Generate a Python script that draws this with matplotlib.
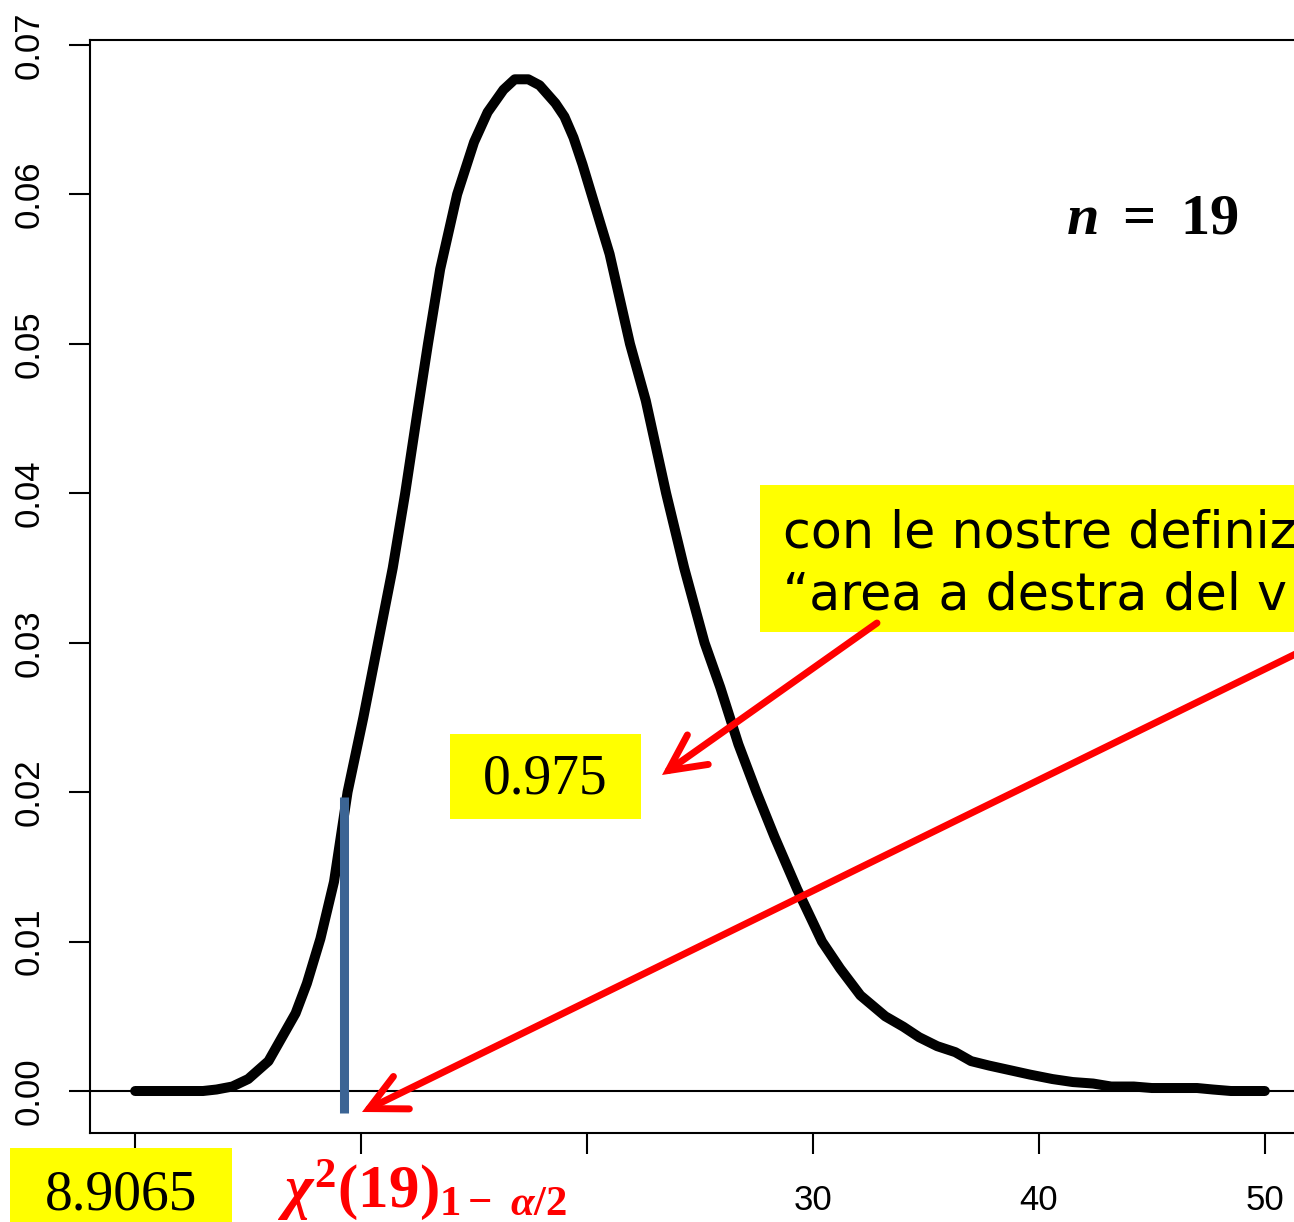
import matplotlib
matplotlib.use("Agg")
import matplotlib.pyplot as plt
from matplotlib.patches import Rectangle, FancyArrowPatch
from matplotlib.lines import Line2D

# density curve (chi-square, 19 df)
x_vals = [0, 1, 2, 3, 3.6, 4.3, 5.0, 5.9, 7.1, 7.6, 8.2, 8.8, 9.4, 10.1, 10.75,
          11.4, 11.95, 12.5, 12.96, 13.5, 14.25, 15.0, 15.6, 16.3, 16.8, 17.4,
          17.9, 18.6, 19.0, 19.4, 19.8, 20.2, 21.0, 21.9, 22.6, 23.5, 24.3,
          25.2, 25.9, 26.7, 27.5, 28.3, 29.3, 30.4, 31.2, 32.1, 33.2, 34.0,
          34.7, 35.5, 36.3, 37.0, 37.8, 38.7, 39.6, 40.6, 41.5, 42.4, 43.2,
          44.2, 45.0, 46.0, 47.0, 47.7, 48.5, 50.0]
dens_vals = [0, 0, 0, 0, 0.0001, 0.0003, 0.0008, 0.0020, 0.0052, 0.0072, 0.0102,
             0.0140, 0.0200, 0.0250, 0.0300, 0.0350, 0.0400, 0.0455, 0.0500,
             0.0550, 0.0600, 0.0635, 0.0655, 0.0670, 0.0677, 0.0677, 0.0673,
             0.0661, 0.0652, 0.0638, 0.0620, 0.0600, 0.0560, 0.0500, 0.0462,
             0.0400, 0.0350, 0.0300, 0.0270, 0.0232, 0.0200, 0.0170, 0.0135,
             0.0100, 0.0082, 0.0064, 0.0050, 0.0043, 0.0036, 0.0030, 0.0026,
             0.0020, 0.0017, 0.0014, 0.0011, 0.0008, 0.0006, 0.0005, 0.0003,
             0.0003, 0.0002, 0.0002, 0.0002, 0.0001, 0.0, 0.0]

x_ticks = [0, 10, 20, 30, 40, 50]
x_ticklabels = ["", "", "", "30", "40", "50"]
y_ticks = [0.00, 0.01, 0.02, 0.03, 0.04, 0.05, 0.06, 0.07]

crit_x = 9.25          # where the blue marker sits on the picture
crit_top = 0.0197
crit_label = "8.9065"
area_label = "0.975"
# the slide is cut at the right edge, only this much of the note shows
note_lines = ["con le nostre definiz", "\u201carea a destra del v"]

W, H = 1294, 1222

plt.rcParams["mathtext.fontset"] = "custom"
plt.rcParams["mathtext.rm"] = "Liberation Serif:bold"
plt.rcParams["mathtext.it"] = "Liberation Serif:italic:bold"
plt.rcParams["mathtext.bf"] = "Liberation Serif:bold"


def fx(px):
    return px / W


def fy(py):
    return 1 - py / H


fig = plt.figure(figsize=(W / 100, H / 100), dpi=100)
ax = fig.add_axes([fx(90), fy(1133), 1220 / W, (1133 - 40) / H])

ax.plot(x_vals, dens_vals, color="black", lw=7.2, solid_capstyle="round",
        solid_joinstyle="round", zorder=3)
ax.axhline(0, color="black", lw=1.5, zorder=2)
ax.add_line(Line2D([crit_x, crit_x], [-0.0015, crit_top], color="#3B6494",
                   lw=6.5, solid_capstyle="butt", clip_on=False, zorder=4))

ax.set_xlim(-2, 52)
ax.set_ylim(-0.00281, 0.07033)
ax.set_xticks(x_ticks)
ax.set_xticklabels(x_ticklabels)
ax.set_yticks(y_ticks)
ax.set_yticklabels([f"{v:.2f}" for v in y_ticks], rotation=90, va="center")
ax.tick_params(axis="both", length=15, width=1.5, labelsize=25)
ax.tick_params(axis="x", pad=22)
ax.tick_params(axis="y", pad=17)
for lab in ax.get_xticklabels() + ax.get_yticklabels():
    lab.set_fontfamily("Liberation Sans")
for sp in ax.spines.values():
    sp.set_linewidth(1.5)

# yellow boxes
boxes = [(10, 1148, 222, 80), (450, 734, 191, 85), (760, 485, 560, 147)]
for bx, by, bw, bh in boxes:
    fig.add_artist(Rectangle((fx(bx), fy(by + bh)), bw / W, bh / H,
                             transform=fig.transFigure, facecolor="#FFFF00",
                             edgecolor="none", zorder=5))

fig.text(fx(121), fy(1195), crit_label, ha="center", va="center",
         family="Liberation Serif", fontsize=40, zorder=6)
fig.text(fx(545), fy(780), area_label, ha="center", va="center",
         family="Liberation Serif", fontsize=40, zorder=6)
fig.text(fx(783), fy(548), note_lines[0], ha="left", va="baseline",
         family="DejaVu Sans", fontsize=36.5, zorder=6)
fig.text(fx(783), fy(610), note_lines[1], ha="left", va="baseline",
         family="DejaVu Sans", fontsize=36.5, zorder=6)

fig.text(fx(277), fy(1207), r"$\chi^{2}(19)_{1-\ \alpha/2}$", ha="left",
         va="baseline", color="#FF0000", fontsize=44, zorder=6)
fig.text(fx(1152), fy(234), r"$n\ =\ 19$", ha="center", va="baseline",
         color="black", fontsize=42, zorder=6)

# red arrows
arrow_style = "->,head_length=1.3,head_width=0.65"
fig.add_artist(FancyArrowPatch(
    (fx(877), fy(623)), (fx(662), fy(775)), transform=fig.transFigure,
    arrowstyle=arrow_style, mutation_scale=20, color="#FF0000", lw=5,
    capstyle="round", joinstyle="miter", shrinkA=0, shrinkB=0, zorder=7))
fig.add_artist(FancyArrowPatch(
    (fx(1320), fy(642)), (fx(362), fy(1112)), transform=fig.transFigure,
    arrowstyle=arrow_style, mutation_scale=20, color="#FF0000", lw=5,
    capstyle="round", joinstyle="miter", shrinkA=0, shrinkB=0, zorder=7))

fig.savefig("out.png", dpi=100)
